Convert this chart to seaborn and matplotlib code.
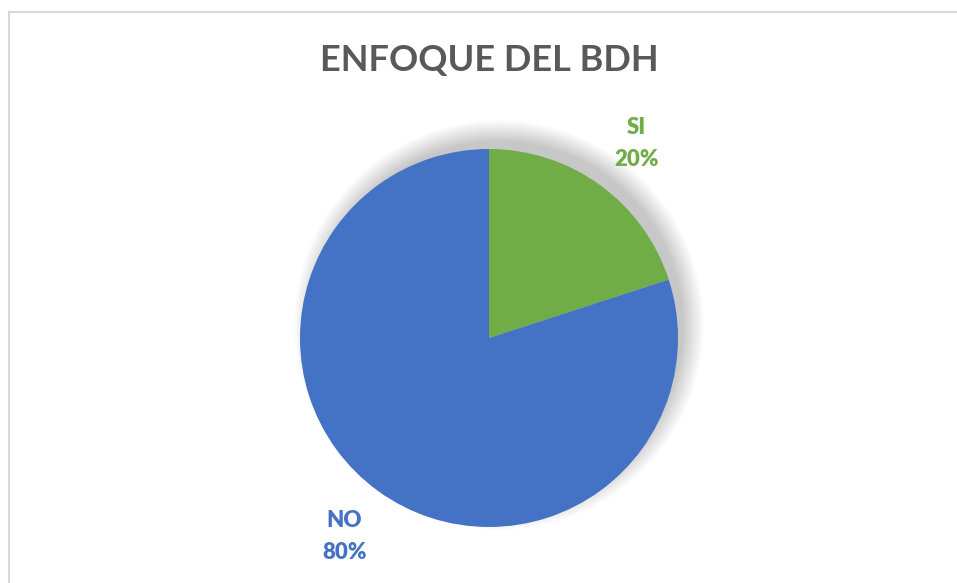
import matplotlib
matplotlib.use("Agg")
import matplotlib.pyplot as plt
import matplotlib.patches as mpatches
import seaborn as sns

categories = ["SI", "NO"]
values = [20, 80]
colors = ["#70AD47", "#4472C4"]
title = "ENFOQUE DEL BDH"

sns.set_theme(style="white")
plt.rcParams["font.family"] = ["Lato", "DejaVu Sans"]

W, H = 957, 583
fig = plt.figure(figsize=(W / 100, H / 100), dpi=100)
fig.patch.set_facecolor("white")
ax = fig.add_axes([0, 0, 1, 1])
ax.set_xlim(0, W)
ax.set_ylim(0, H)
ax.set_aspect("equal")
ax.axis("off")

# chart border (extends past right/bottom edges as in the cropped reference)
ax.add_patch(mpatches.Rectangle((8.5, -20), W + 40, H - 12 + 20, fill=False,
                                edgecolor="#D9D9D9", lw=1.5, zorder=0))

cx, cy, r = 489, H - 338, 189

# soft shadow
N = 28
dx, dy, blur = 10, 13, 22
for i in range(N):
    rr = r - 6 + blur * (i + 1) / N
    ax.add_patch(mpatches.Circle((cx + dx, cy + dy), rr, facecolor="#000000",
                                 edgecolor="none", alpha=0.0095, zorder=1))

labels = [f"{c}\n{v}%" for c, v in zip(categories, values)]
wedges, texts = ax.pie(values, colors=colors, startangle=90, counterclock=False,
                       center=(cx, cy), radius=r, labels=labels, labeldistance=1.3,
                       wedgeprops=dict(edgecolor="none", linewidth=0),
                       textprops=dict(fontsize=16, linespacing=1.65))
for w in wedges:
    w.set_zorder(2)
for t, c in zip(texts, colors):
    t.set_color(c)
    t.set_fontweight("heavy")
    t.set_ha("center")
    t.set_va("center")
texts[0].set_y(texts[0].get_position()[1] - 4)
texts[0].set_x(texts[0].get_position()[0] + 3)

ax.set_xlim(0, W)
ax.set_ylim(0, H)
ax.text(489, H - 60, title, ha="center", va="center", fontsize=26,
        fontweight="bold", color="#595959")

fig.savefig("out.png", dpi=100)
